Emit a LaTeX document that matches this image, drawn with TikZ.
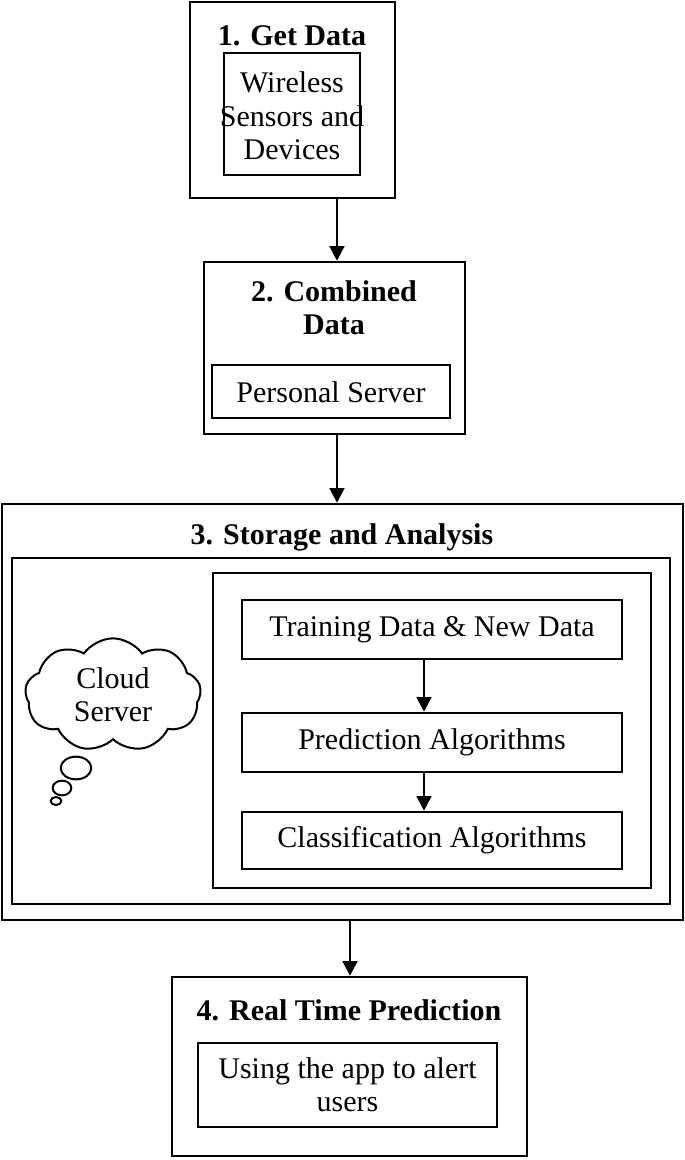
\documentclass[tikz,border=0pt]{standalone}
\usepackage{fontspec}
\setmainfont{Liberation Serif}
\usetikzlibrary{fit,shapes.symbols,shapes.geometric,arrows.meta}
\begin{document}
\begin{tikzpicture}[x=0.75pt,y=-0.75pt,
  box/.style={draw,line width=1.8pt,inner sep=0pt},
  t/.style={font=\fontsize{22.5}{25}\selectfont,align=center},
  tb/.style={font=\fontsize{22.5}{25}\selectfont\bfseries,align=center},
  arr/.style={-{Triangle[length=11pt,width=11pt]},line width=2pt},
  ell/.style={draw,ellipse,line width=1.5pt,inner sep=0pt}]
\useasboundingbox (0,0) rectangle (685,1160);
% Box 1
\coordinate (a1) at (190,2); \coordinate (a2) at (395,198);
\node[box,fit=(a1)(a2)] (b1) {};
\node[tb] (t1) at (292,36) {1. Get Data};
\coordinate (a3) at (224,53); \coordinate (a4) at (360,175);
\node[box,fit=(a3)(a4)] (i1) {};
\node[t] (x1) at (292,116) {Wireless\\Sensors and\\Devices};
% Box 2
\coordinate (c1) at (204,262); \coordinate (c2) at (465,434);
\node[box,fit=(c1)(c2)] (b2) {};
\node[tb] (t2) at (334,308) {2. Combined\\Data};
\coordinate (c3) at (212,365); \coordinate (c4) at (450,418);
\node[box,fit=(c3)(c4)] (i2) {};
\node[t] (x2) at (331,392) {Personal Server};
% Box 3
\coordinate (d1) at (2,504); \coordinate (d2) at (683,920);
\node[box,fit=(d1)(d2)] (b3) {};
\node[tb] (t3) at (342,537) {3. Storage and Analysis};
\coordinate (d3) at (12,558); \coordinate (d4) at (670,904);
\node[box,fit=(d3)(d4)] (i3) {};
\coordinate (d5) at (213,573); \coordinate (d6) at (651,888);
\node[box,fit=(d5)(d6)] (i4) {};
\coordinate (e1) at (242,600); \coordinate (e2) at (622,659);
\node[box,fit=(e1)(e2)] (s1) {};
\node[t] at (s1) {Training Data \& New Data};
\coordinate (e3) at (242,713); \coordinate (e4) at (622,772);
\node[box,fit=(e3)(e4)] (s2) {};
\node[t] at (s2) {Prediction Algorithms};
\coordinate (e5) at (242,812); \coordinate (e6) at (622,869);
\node[box,fit=(e5)(e6)] (s3) {};
\node[t] at (s3) {Classification Algorithms};
\draw[arr] (s1.south -| 424,0) -- (s2.north -| 424,0);
\draw[arr] (s2.south -| 424,0) -- (s3.north -| 424,0);
\node[cloud,draw,line width=1.5pt,cloud puffs=9,cloud puff arc=110,aspect=1.5,minimum width=132pt,minimum height=85pt,inner sep=0pt,t] (cl) at (113,695) {Cloud\\Server};
\node[ell,minimum width=23pt,minimum height=17pt] (o1) at (76,768) {};
\node[ell,minimum width=14pt,minimum height=11pt] (o2) at (62,788) {};
\node[ell,minimum width=8pt,minimum height=6pt] (o3) at (56,801) {};
% Box 4
\coordinate (f1) at (172,977); \coordinate (f2) at (527,1156);
\node[box,fit=(f1)(f2)] (b4) {};
\node[tb] (t4) at (349,1010) {4. Real Time Prediction};
\coordinate (f3) at (198,1043); \coordinate (f4) at (497,1127);
\node[box,fit=(f3)(f4)] (i5) {};
\node[t] at (i5) {Using the app to alert\\users};
% arrows
\draw[arr] (b1.south -| 337,0) -- (b2.north -| 337,0);
\draw[arr] (b2.south -| 337,0) -- (b3.north -| 337,0);
\draw[arr] (b3.south -| 350,0) -- (b4.north -| 350,0);
\end{tikzpicture}
\end{document}
